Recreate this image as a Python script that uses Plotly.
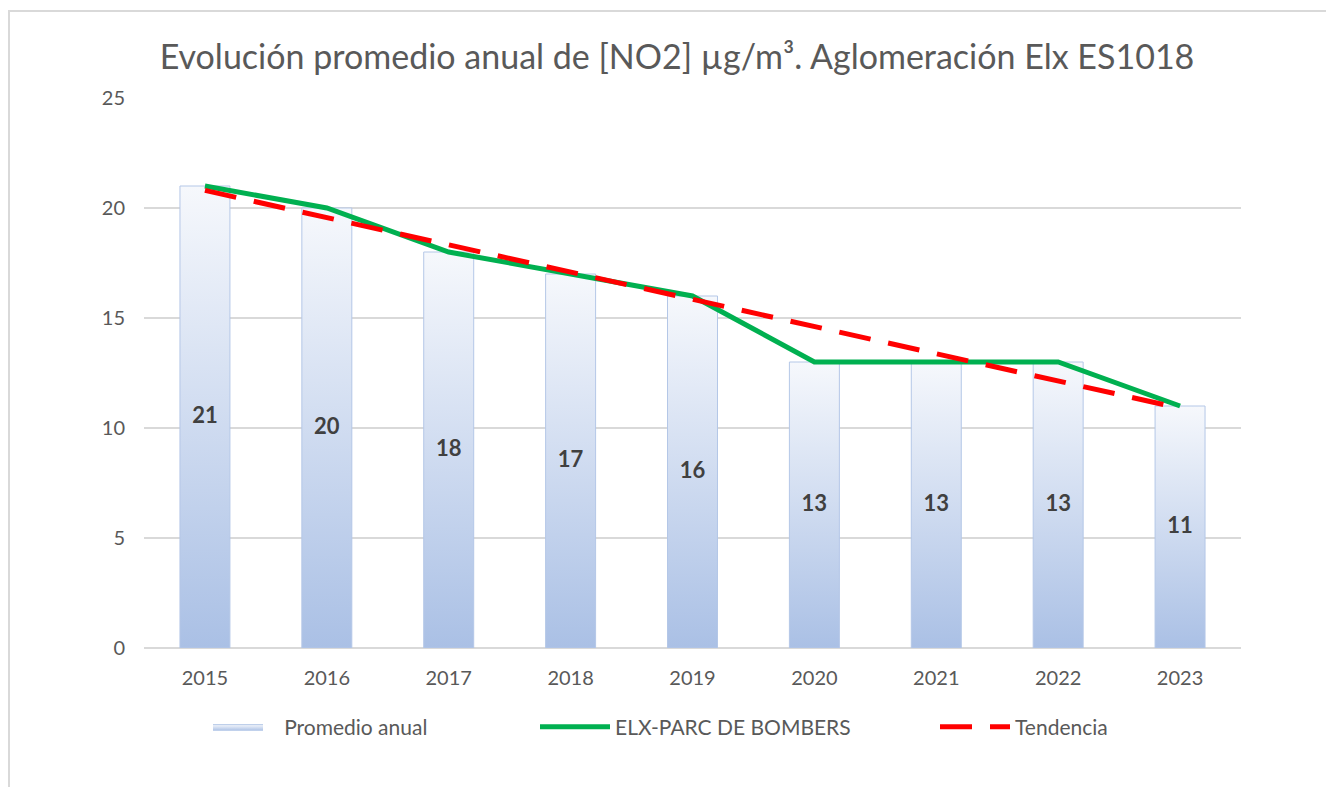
import plotly.graph_objects as go

# ---- data ----
years = ["2015", "2016", "2017", "2018", "2019", "2020", "2021", "2022", "2023"]
promedio_anual = [21, 20, 18, 17, 16, 13, 13, 13, 11]
elx_parc_bombers = [21, 20, 18, 17, 16, 13, 13, 13, 11]
trend_years = ["2015", "2023"]
trend_values = [20.8, 10.9]
y_ticks = [0, 5, 10, 15, 20, 25]

# ---- style (figure pixel coords; page has 8px body margin) ----
OFF = 8
W, H = 1334 - OFF, 787 - OFF
L = 144 - OFF
T = 98 - OFF
R = W - (1241 - OFF)
B = H - (648 - OFF)
plot_w = W - L - R
plot_h = H - T - B
BAR_W = 0.41
TOP_COL = "#f6f8fc"
BOT_COL = "#aac0e5"
FONT = "Lato"
TXT = "#595959"

idx = {y: i for i, y in enumerate(years)}

fig = go.Figure()

# gradient-filled bars
for i, (yr, v) in enumerate(zip(years, promedio_anual)):
    xc = idx[yr]
    fig.add_trace(go.Scatter(
        x=[xc - BAR_W / 2, xc + BAR_W / 2, xc + BAR_W / 2, xc - BAR_W / 2, xc - BAR_W / 2],
        y=[0, 0, v, v, 0],
        mode="lines",
        fill="toself",
        fillgradient=dict(type="vertical", colorscale=[[0, BOT_COL], [1, TOP_COL]]),
        line=dict(color="#b4c7e7", width=1),
        name="   Promedio anual",
        showlegend=(i == 0),
        legend="legend",
        hoverinfo="skip",
    ))

# data labels centred in the bars
fig.add_trace(go.Scatter(
    x=[idx[y] for y in years],
    y=[v / 2 for v in promedio_anual],
    mode="text",
    text=[str(v) for v in promedio_anual],
    textposition="middle center",
    textfont=dict(family=FONT, size=22, color="#404040", weight="bold"),
    showlegend=False,
    hoverinfo="skip",
))

fig.add_trace(go.Scatter(
    x=[idx[y] for y in years],
    y=elx_parc_bombers,
    mode="lines",
    line=dict(color="#00b050", width=5),
    name="ELX-PARC DE BOMBERS",
    legend="legend2",
))

fig.add_trace(go.Scatter(
    x=[idx[y] for y in trend_years],
    y=trend_values,
    mode="lines",
    line=dict(color="#ff0000", width=5, dash="32px,18px"),
    name="Tendencia",
    legend="legend3",
))


def px_x(p):
    return (p - OFF - L) / plot_w


def px_y(p):
    return (H - B - (p - OFF)) / plot_h


def legend_at(page_x, itemwidth):
    return dict(
        orientation="h",
        yanchor="middle",
        y=px_y(727),
        xanchor="left",
        x=px_x(page_x),
        font=dict(family=FONT, size=21, color=TXT),
        bgcolor="rgba(0,0,0,0)",
        itemwidth=itemwidth,
    )


fig.update_layout(
    width=W,
    height=H,
    margin=dict(l=L, r=R, t=T, b=B),
    paper_bgcolor="white",
    plot_bgcolor="white",
    title=dict(
        text="Evolución promedio anual de [NO2] µg/m³. Aglomeración Elx ES1018",
        x=px_x(677), xref="paper", xanchor="center",
        y=1 - (57 - OFF) / H, yanchor="middle",
        font=dict(family=FONT, size=34, color=TXT),
    ),
    xaxis=dict(
        range=[-0.5, len(years) - 0.5],
        tickmode="array",
        tickvals=list(range(len(years))),
        ticktext=years,
        showgrid=False,
        showline=False,
        zeroline=False,
        ticks="",
        ticklabelstandoff=16,
        tickfont=dict(family=FONT, size=20, color=TXT),
        fixedrange=True,
    ),
    yaxis=dict(
        range=[0, 25],
        tickmode="array",
        tickvals=y_ticks,
        showgrid=True,
        gridcolor="#d9d9d9",
        gridwidth=1.5,
        zeroline=True,
        zerolinecolor="#d9d9d9",
        zerolinewidth=2,
        ticks="",
        ticklabelstandoff=18,
        tickfont=dict(family=FONT, size=20, color=TXT),
        fixedrange=True,
    ),
    legend=legend_at(208, 50),
    legend2=legend_at(535, 70),
    legend3=legend_at(935, 70),
    shapes=[
        dict(type="line", xref="paper", yref="paper",
             x0=px_x(8), x1=px_x(1345), y0=px_y(11), y1=px_y(11),
             line=dict(color="#d9d9d9", width=2)),
        dict(type="line", xref="paper", yref="paper",
             x0=px_x(9), x1=px_x(9), y0=px_y(11), y1=px_y(800),
             line=dict(color="#d9d9d9", width=2)),
    ],
)

fig.write_html("out.html")
